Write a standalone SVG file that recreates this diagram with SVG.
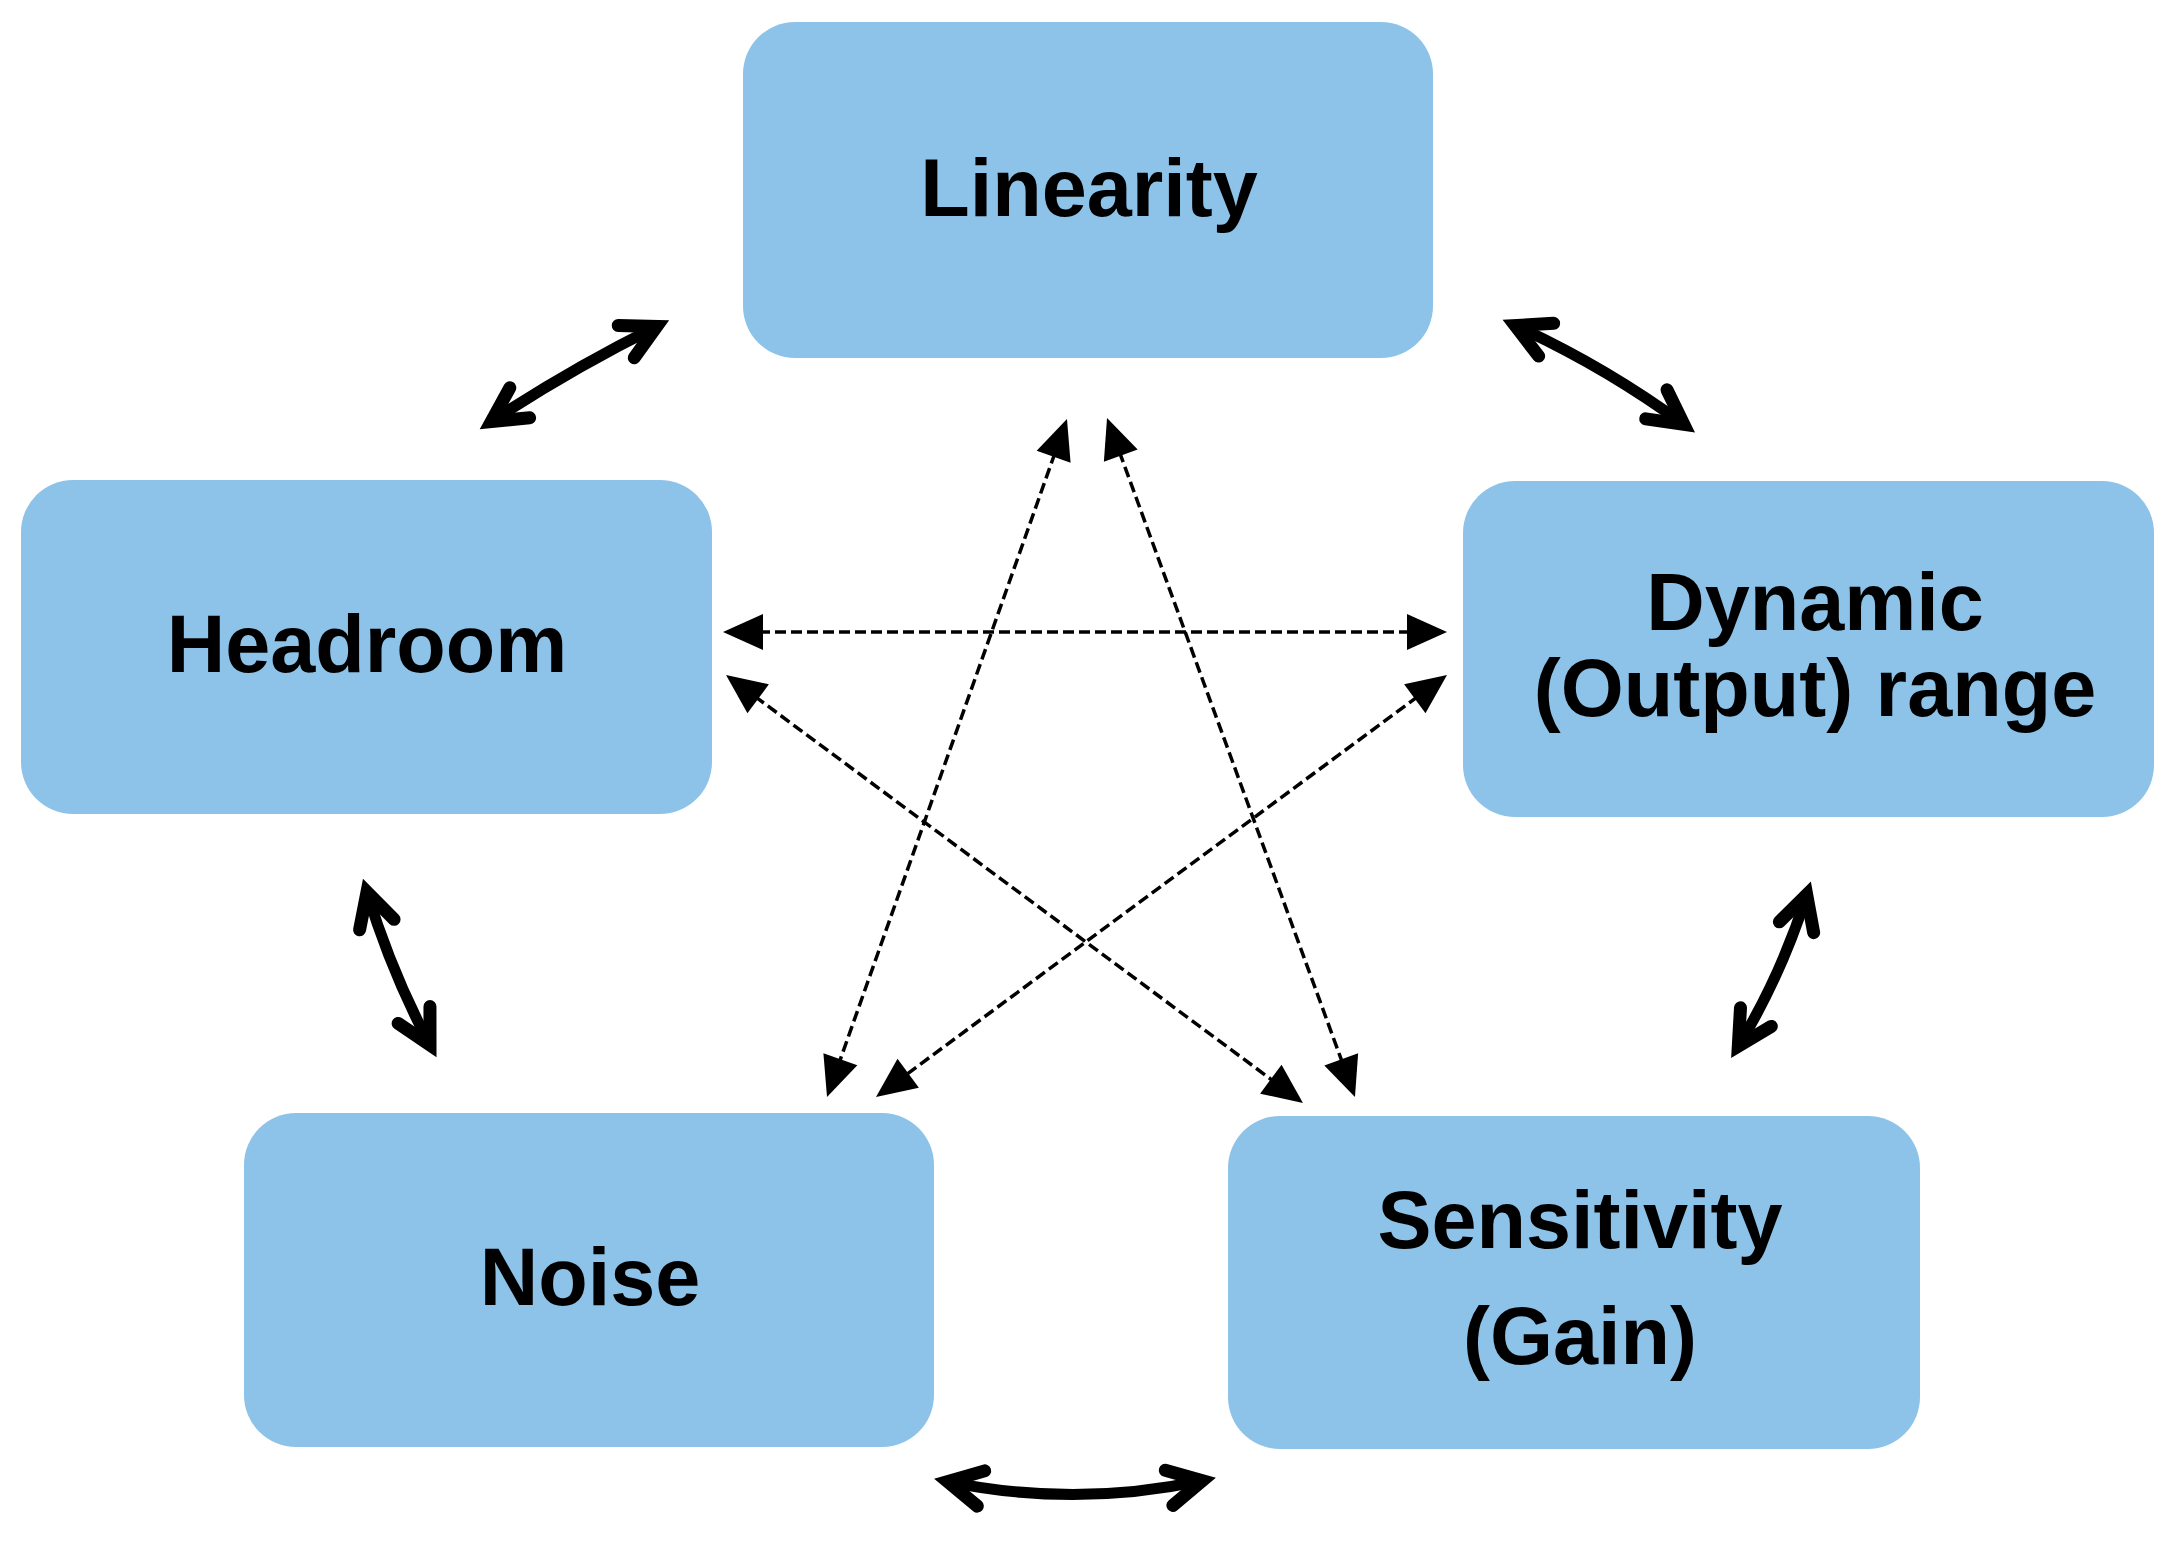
<svg xmlns="http://www.w3.org/2000/svg" width="2178" height="1545" viewBox="0 0 2178 1545">
<style>
.box{fill:#8DC3E8;}
.lbl{font-family:"Liberation Sans",Arial,sans-serif;font-weight:bold;font-size:81px;fill:#000;text-anchor:middle;}
.solid{fill:none;stroke:#000;stroke-width:11;marker-start:url(#chev);marker-end:url(#chev);}
.dash{fill:none;stroke:#000;stroke-width:3.5;stroke-dasharray:11 5;marker-start:url(#tri);marker-end:url(#tri);}
</style>
<defs>
<marker id="chev" markerUnits="userSpaceOnUse" viewBox="-60 -40 90 80" markerWidth="90" markerHeight="80" refX="0" refY="0" orient="auto-start-reverse">
<path d="M-34,-18 L0,0 L-34,18" fill="none" stroke="#000" stroke-width="13" stroke-linecap="round" stroke-linejoin="miter" stroke-miterlimit="10"/>
</marker>
<marker id="tri" markerUnits="userSpaceOnUse" viewBox="-30 -30 60 60" markerWidth="60" markerHeight="60" refX="0" refY="0" orient="auto-start-reverse">
<path d="M20,0 L-20,-18 L-20,18 Z" fill="#000"/>
</marker>
</defs>
<rect width="2178" height="1545" fill="#fff"/>
<g id="connectors">
<path class="solid" d="M491.3,421.5 Q571,369 656.7,326.5"/>
<path class="solid" d="M1515.2,325.6 Q1604.6,366.4 1683.8,424.4"/>
<path class="solid" d="M367,892 Q391,971.5 430,1045"/>
<path class="solid" d="M1806.7,894.8 Q1781.6,974.6 1738.3,1046.2"/>
<path class="solid" d="M947.7,1481.6 Q1075,1508 1202.3,1480.7"/>
<path class="dash" d="M743,632 L1427,632"/>
<path class="dash" d="M742.1,686.9 L1286.9,1091.1"/>
<path class="dash" d="M1430.9,686.9 L892.1,1085.1"/>
<path class="dash" d="M1060.3,437.9 L833.7,1078.1"/>
<path class="dash" d="M1113.9,436.8 L1348.1,1078.2"/>
</g>
<g id="linearity">
<rect class="box" x="743" y="22" width="690" height="336" rx="52" ry="52"/>
<text class="lbl" x="1089" y="216">Linearity</text>
</g>
<g id="headroom">
<rect class="box" x="21" y="480" width="691" height="334" rx="52" ry="52"/>
<text class="lbl" x="367" y="672">Headroom</text>
</g>
<g id="dynamic">
<rect class="box" x="1463" y="481" width="691" height="336" rx="52" ry="52"/>
<text class="lbl" x="1815" y="630">Dynamic</text>
<text class="lbl" x="1815" y="716">(Output) range</text>
</g>
<g id="noise">
<rect class="box" x="244" y="1113" width="690" height="334" rx="52" ry="52"/>
<text class="lbl" x="590" y="1305">Noise</text>
</g>
<g id="sensitivity">
<rect class="box" x="1228" y="1116" width="692" height="333" rx="52" ry="52"/>
<text class="lbl" x="1580" y="1248">Sensitivity</text>
<text class="lbl" x="1580" y="1364">(Gain)</text>
</g>
</svg>
